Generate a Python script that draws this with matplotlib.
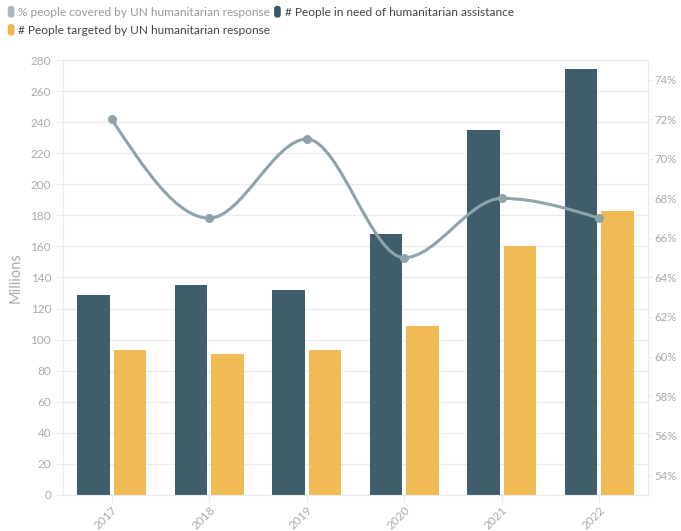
import numpy as np
import matplotlib.pyplot as plt
from matplotlib.path import Path
from matplotlib.patches import PathPatch, FancyBboxPatch
from matplotlib.legend_handler import HandlerPatch
from matplotlib.transforms import ScaledTranslation

plt.rcParams['font.family'] = ['Lato', 'DejaVu Sans']

years = ['2017', '2018', '2019', '2020', '2021', '2022']
in_need = [129, 135, 132, 168, 235, 274]        # millions
targeted = [93, 91, 93, 109, 160, 183]          # millions
covered_pct = [72, 67, 71, 65, 68, 67]          # percent

dark = '#3a5866'
yellow = '#f0b94f'
grey_line = '#8fa3ab'
tick_col = '#aaaaaa'
grid_col = '#ececec'


def monotone_path(x, y):
    # monotone-x cubic as bezier segments, like d3 curveMonotoneX
    x = np.asarray(x, float)
    y = np.asarray(y, float)
    n = len(x)
    h = np.diff(x)
    s = np.diff(y) / h
    t = np.zeros(n)
    for i in range(1, n - 1):
        if s[i - 1] * s[i] <= 0:
            t[i] = 0
        else:
            p = (s[i - 1] * h[i] + s[i] * h[i - 1]) / (h[i - 1] + h[i])
            t[i] = np.sign(s[i - 1]) * min(abs(s[i - 1]), abs(s[i]), 0.5 * abs(p)) * 2
    t[0] = (3 * s[0] - t[1]) / 2
    t[-1] = (3 * s[-1] - t[-2]) / 2
    verts = [(x[0], y[0])]
    codes = [Path.MOVETO]
    for i in range(n - 1):
        dx = h[i] / 3
        verts += [(x[i] + dx, y[i] + dx * t[i]), (x[i + 1] - dx, y[i + 1] - dx * t[i + 1]), (x[i + 1], y[i + 1])]
        codes += [Path.CURVE4] * 3
    return Path(verts, codes)


fig = plt.figure(figsize=(6.81, 5.31), dpi=100)
ax = fig.add_axes([0.0925, 0.068, 0.859, 0.819])
ax2 = ax.twinx()

xs = np.arange(len(years))
w = 0.335
ax.bar(xs - w / 2 - 0.02, in_need, w, color=dark, alpha=0.97, zorder=2)
ax.bar(xs + w / 2 + 0.02, targeted, w, color=yellow, alpha=0.97, zorder=2)

ax.set_xlim(-0.5, len(years) - 0.5)
ax.set_ylim(0, 280)
ax.set_yticks(np.arange(0, 281, 20))
ax.set_xticks(xs)
ax.set_xticklabels(years, rotation=45, ha='right', va='top', rotation_mode='anchor')
for lab in ax.get_xticklabels():
    lab.set_transform(lab.get_transform() + ScaledTranslation(6 / 72, 0, fig.dpi_scale_trans))
ax.grid(axis='y', color=grid_col, lw=1, zorder=0)
ax.set_axisbelow(True)
ax.set_ylabel('Millions', color=tick_col, fontsize=10.5, labelpad=6)

ax2.set_ylim(53, 75)
ax2.set_yticks(np.arange(54, 75, 2))
ax2.set_yticklabels([f'{v}%' for v in range(54, 75, 2)])

path = monotone_path(xs, covered_pct)
ax2.add_patch(PathPatch(path, fc='none', ec=grey_line, lw=2.2, zorder=3))
ax2.plot(xs, covered_pct, 'o', color=grey_line, ms=5.5, zorder=4)

for a in (ax, ax2):
    for sp in a.spines.values():
        sp.set_color(grid_col)
    a.tick_params(colors=tick_col, labelsize=8.5, length=5, width=0.8)
    a.tick_params(axis='both', color=grid_col)
ax.tick_params(axis='x', pad=2)
ax2.tick_params(axis='y', length=3, pad=1.5, labelsize=8.2)


class RoundHandler(HandlerPatch):
    def create_artists(self, legend, orig, xd, yd, width, height, fontsize, trans):
        p = FancyBboxPatch((xd + width - height * 0.85, yd - height * 0.25), height * 0.8, height * 1.4,
                           boxstyle='round,pad=0,rounding_size=2', fc=orig.get_facecolor(), ec='none',
                           transform=trans)
        return [p]


h_grey = plt.Rectangle((0, 0), 1, 1, fc='#a9b8bf')
h_yel = plt.Rectangle((0, 0), 1, 1, fc=yellow)
h_dark = plt.Rectangle((0, 0), 1, 1, fc=dark)
leg = fig.legend([h_grey, h_yel, h_dark],
                 ['% people covered by UN humanitarian response',
                  '# People targeted by UN humanitarian response',
                  '# People in need of humanitarian assistance'],
                 ncol=2, loc='upper left', bbox_to_anchor=(-0.008, 1.008), frameon=False,
                 fontsize=8.6, handlelength=0.8, handletextpad=0.3, columnspacing=0.1,
                 labelspacing=0.6, handler_map={plt.Rectangle: RoundHandler()})
txts = leg.get_texts()
txts[0].set_color('#9a9a9a')
txts[1].set_color('#444444')
txts[2].set_color('#444444')

fig.savefig('out.png', dpi=100)
